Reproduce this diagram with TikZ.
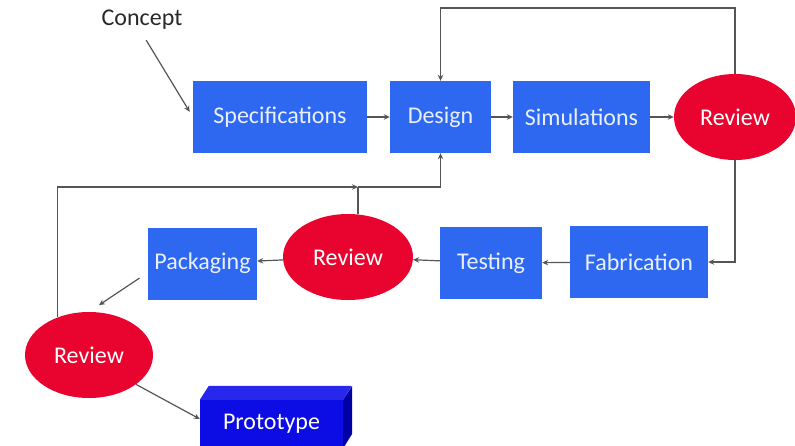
\documentclass[tikz,border=0pt]{standalone}
\usepackage{fontspec}
\setmainfont{Carlito}
\usetikzlibrary{shapes.geometric,arrows.meta}
\definecolor{boxblue}{RGB}{46,104,240}
\definecolor{revred}{RGB}{232,4,46}
\definecolor{linegray}{RGB}{85,85,85}
\definecolor{textgray}{RGB}{40,40,40}
\definecolor{boxtext}{RGB}{232,240,255}
\definecolor{protofront}{RGB}{12,12,228}
\definecolor{prototop}{RGB}{40,40,236}
\definecolor{protoside}{RGB}{0,0,165}
\begin{document}
\begin{tikzpicture}[x=1pt,y=-1pt,
	every node/.style={font=\fontsize{24}{28}\selectfont},
	stepbox/.style={rectangle,fill=boxblue,text=boxtext,inner sep=0pt,minimum height=72},
	revnode/.style={ellipse,fill=revred,text=white,inner sep=0pt,minimum height=86},
	flow/.style={draw=linegray,line width=1.2pt,-{Stealth[length=6pt,width=5.5pt]}},
	plain/.style={draw=linegray,line width=1.2pt}]
	\useasboundingbox (0,0) rectangle (795,445);

	\node[text=textgray] (concept) at (142,20) {Concept};
	\node[stepbox, minimum width=174] (spec) at (280,117) {Specifications};
	\node[stepbox, minimum width=101] (design) at (440.5,117) {Design};
	\node[stepbox, minimum width=137] (sim) at (581.5,117) {Simulations};
	\node[revnode, minimum width=122] (rev1) at (735,117) {Review};

	\node[stepbox, minimum width=138] (fab) at (639,262) {Fabrication};
	\node[stepbox, minimum width=102] (test) at (491,263) {Testing};
	\node[revnode, minimum width=130] (rev2) at (348,257) {Review};
	\node[stepbox, minimum width=109] (pack) at (202.5,263.5) {Packaging};
	\node[revnode, minimum width=128] (rev3) at (89,355) {Review};

	\node[fill=protofront, text=white, inner sep=0pt, minimum width=143, minimum height=48] (proto) at (271.5,424) {Prototype};
	\fill[prototop] (proto.north west) -- ++(9,-14) -- ++(143,0) -- (proto.north east) -- cycle;
	\fill[protoside] (proto.north east) -- ++(9,-14) -- ++(0,48) -- (proto.south east) -- cycle;

	\coordinate (top) at (440.5,8);
	\coordinate (join) at (358,187);

	\draw[flow, shorten <=8pt, shorten >=6pt] (concept.south) -- (spec.west);
	\draw[flow] (spec) -- (design);
	\draw[flow] (design) -- (sim);
	\draw[flow] (sim) -- (rev1);
	\draw[flow] (rev1.north) |- (top) -- (design.north);
	\draw[flow] (rev1.south) |- (fab.east);
	\draw[flow] (fab) -- (test);
	\draw[flow] (test) -- (rev2);
	\draw[flow] (rev2) -- (pack);
	\draw[plain] (rev2.north -| join) -- (join);
	\draw[flow] (join) -| (design.south);
	\draw[flow] (rev3.130) |- (join);
	\draw[flow, shorten <=10pt, shorten >=12pt] ([yshift=-9pt]pack.west) -- (rev3.north);
	\draw[flow] (rev3.-32) -- ([yshift=5pt]proto.west);
\end{tikzpicture}
\end{document}
